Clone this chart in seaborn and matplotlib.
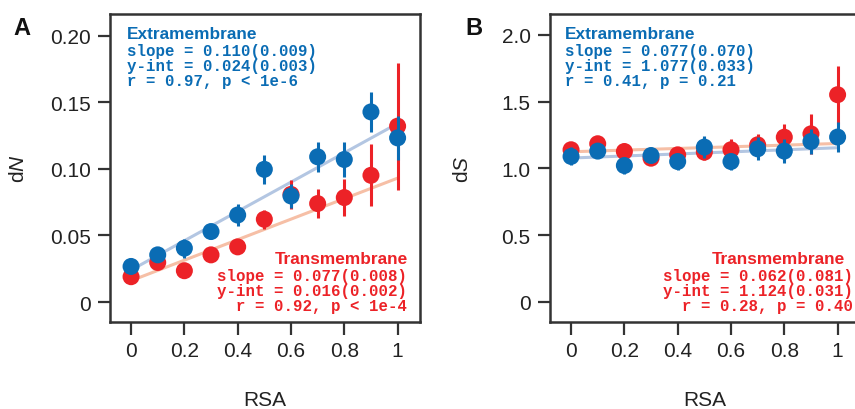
import numpy as np
import pandas as pd
import matplotlib
matplotlib.use("Agg")
import matplotlib.pyplot as plt
import seaborn as sns

# ---- data ----
rsa = [0.0, 0.1, 0.2, 0.3, 0.4, 0.5, 0.6, 0.7, 0.8, 0.9, 1.0]

dn_extra = [0.0267, 0.0354, 0.0404, 0.0529, 0.0653, 0.0996, 0.0796, 0.1090, 0.1070, 0.1427, 0.1232]
dn_extra_err = [0.002, 0.003, 0.007, 0.003, 0.008, 0.0107, 0.009, 0.0112, 0.013, 0.0153, 0.0168]
dn_trans = [0.0190, 0.0297, 0.0235, 0.0354, 0.0414, 0.0621, 0.0808, 0.0739, 0.0784, 0.0951, 0.1320]
dn_trans_err = [0.002, 0.002, 0.002, 0.002, 0.003, 0.007, 0.011, 0.011, 0.014, 0.0233, 0.0477]

ds_extra = [1.089, 1.129, 1.021, 1.096, 1.051, 1.159, 1.051, 1.146, 1.129, 1.201, 1.234]
ds_extra_err = [0.067, 0.04, 0.06, 0.04, 0.06, 0.08, 0.06, 0.085, 0.09, 0.09, 0.11]
ds_trans = [1.139, 1.184, 1.126, 1.076, 1.101, 1.121, 1.139, 1.176, 1.233, 1.258, 1.551]
ds_trans_err = [0.04, 0.04, 0.04, 0.03, 0.05, 0.06, 0.08, 0.08, 0.10, 0.15, 0.216]

# fit parameters (slope, intercept)
fit_dn_extra = (0.110, 0.024)
fit_dn_trans = (0.077, 0.016)
fit_ds_extra = (0.077, 1.077)
fit_ds_trans = (0.062, 1.124)

stats_dn_extra = ["slope = 0.110(0.009)", "y-int = 0.024(0.003)", "r = 0.97, p < 1e-6"]
stats_dn_trans = ["slope = 0.077(0.008)", "y-int = 0.016(0.002)", "r = 0.92, p < 1e-4"]
stats_ds_extra = ["slope = 0.077(0.070)", "y-int = 1.077(0.033)", "r = 0.41, p = 0.21"]
stats_ds_trans = ["slope = 0.062(0.081)", "y-int = 1.124(0.031)", "r = 0.28, p = 0.40"]

xticks = [0, 0.2, 0.4, 0.6, 0.8, 1.0]
xticklabels = ["0", "0.2", "0.4", "0.6", "0.8", "1"]
dn_yticks = [0, 0.05, 0.10, 0.15, 0.20]
dn_yticklabels = ["0", "0.05", "0.10", "0.15", "0.20"]
ds_yticks = [0, 0.5, 1.0, 1.5, 2.0]
ds_yticklabels = ["0", "0.5", "1.0", "1.5", "2.0"]

BLUE = "#0a6cb4"
RED = "#ec2227"
LBLUE = "#b3c6e2"
LRED = "#f6bfa6"
FRAME = "#333333"

sns.set_theme(style="white")
plt.rcParams["font.family"] = ["Liberation Sans", "DejaVu Sans"]
plt.rcParams["mathtext.fontset"] = "custom"
plt.rcParams["mathtext.rm"] = "Liberation Sans"
plt.rcParams["mathtext.it"] = "Liberation Sans:italic"

fig = plt.figure(figsize=(8.55, 4.10), dpi=100)
W, H = 855, 410
axA = fig.add_axes([110 / W, (H - 323) / H, 310 / W, 308 / H])
axB = fig.add_axes([550 / W, (H - 323) / H, 310 / W, 308 / H])


def panel(ax, ext, ext_err, tra, tra_err, fit_e, fit_t, ylim, yticks, yticklabels, ylabel,
          stats_e, stats_t, ext_x, tr_title_x, tr_stats_x, ylabel_x):
    xs = np.array([0.0, 1.0])
    df_fit = pd.DataFrame({
        "x": np.concatenate([xs, xs]),
        "y": np.concatenate([fit_t[0] * xs + fit_t[1], fit_e[0] * xs + fit_e[1]]),
        "g": ["t", "t", "e", "e"],
    })
    sns.lineplot(data=df_fit, x="x", y="y", hue="g", palette={"t": LRED, "e": LBLUE},
                 linewidth=2.2, legend=False, ax=ax, zorder=1)
    ax.errorbar(rsa, tra, yerr=tra_err, fmt="none", ecolor=RED, elinewidth=2.2, capsize=0, zorder=2)
    sns.scatterplot(x=rsa, y=tra, color=RED, s=150, edgecolor="none", ax=ax, zorder=3)
    ax.errorbar(rsa, ext, yerr=ext_err, fmt="none", ecolor=BLUE, elinewidth=2.2, capsize=0, zorder=4)
    sns.scatterplot(x=rsa, y=ext, color=BLUE, s=150, edgecolor="none", ax=ax, zorder=5)

    ax.set_xlim(-0.079, 1.084)
    ax.set_ylim(*ylim)
    ax.set_xticks(xticks)
    ax.set_xticklabels(xticklabels)
    ax.set_yticks(yticks)
    ax.set_yticklabels(yticklabels)
    ax.tick_params(axis="both", which="major", direction="out", length=9, width=1.6,
                   color=FRAME, labelsize=15, labelcolor="#222222", pad=5,
                   bottom=True, left=True)
    for sp in ax.spines.values():
        sp.set_color(FRAME)
        sp.set_linewidth(1.8)
    ax.set_xlabel("RSA", fontsize=15, color="#222222")
    ax.xaxis.set_label_coords(0.5, -0.222)
    ax.set_ylabel(ylabel, fontsize=15, color="#222222")
    ax.yaxis.set_label_coords(ylabel_x, 0.5)

    ax.text(ext_x, 0.921, "Extramembrane", transform=ax.transAxes, color=BLUE,
            fontsize=12.4, fontweight="bold", ha="left", va="baseline")
    for yy, s in zip([0.867, 0.818, 0.769], stats_e):
        ax.text(ext_x, yy, s, transform=ax.transAxes, color=BLUE, fontsize=11.3,
                fontweight="bold", family="Liberation Mono", ha="left", va="baseline")
    ax.text(tr_title_x, 0.191, "Transmembrane", transform=ax.transAxes, color=RED,
            fontsize=12.4, fontweight="bold", ha="right", va="baseline")
    for yy, s in zip([0.136, 0.088, 0.039], stats_t):
        ax.text(tr_stats_x, yy, s, transform=ax.transAxes, color=RED, fontsize=11.3,
                fontweight="bold", family="Liberation Mono", ha="right", va="baseline")


panel(axA, dn_extra, dn_extra_err, dn_trans, dn_trans_err, fit_dn_extra, fit_dn_trans,
      (-0.015, 0.2162), dn_yticks, dn_yticklabels, r"d$\it{N}$",
      stats_dn_extra, stats_dn_trans, 0.054, 0.962, 0.957, -0.265)
panel(axB, ds_extra, ds_extra_err, ds_trans, ds_trans_err, fit_ds_extra, fit_ds_trans,
      (-0.15, 2.155), ds_yticks, ds_yticklabels, r"d$\it{S}$",
      stats_ds_extra, stats_ds_trans, 0.0484, 0.952, 0.976, -0.252)

fig.text(13 / W, 1 - 17 / H, "A", fontsize=17, fontweight="bold", ha="left", va="top", color="#111111")
fig.text(465 / W, 1 - 17 / H, "B", fontsize=17, fontweight="bold", ha="left", va="top", color="#111111")

fig.savefig("out.png", dpi=100)
